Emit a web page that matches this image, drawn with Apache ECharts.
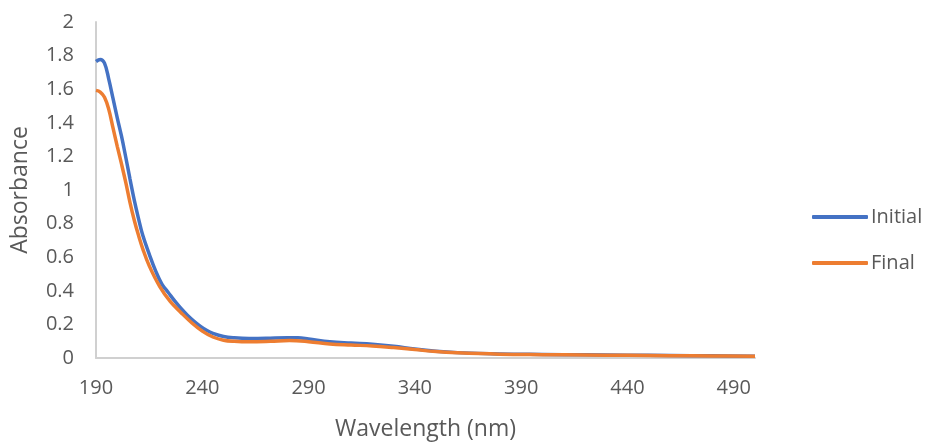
<!DOCTYPE html>
<html>
<head>
<meta charset="utf-8">
<script src="https://cdn.jsdelivr.net/npm/echarts@6/dist/echarts.min.js"></script>
<style>html,body{margin:0;padding:0;background:#fff}#c{width:928px;height:446px}</style>
</head>
<body>
<div id="c"></div>
<script>
var seriesNames = ['Initial', 'Final'];
var xTickLabels = [190, 240, 290, 340, 390, 440, 490];
var initialX = [190,192,194,196,198,200,202,204,206,208,210,212,215,218,221,224,227,230,233,236,239,242,245,250,255,262,270,280,285,290,300,310,320,330,340,350,360,380,400,420,440,460,480,500];
var initialY = [1.765,1.777,1.755,1.66,1.545,1.43,1.32,1.195,1.065,0.94,0.83,0.73,0.62,0.52,0.44,0.39,0.34,0.295,0.255,0.22,0.19,0.165,0.147,0.128,0.12,0.116,0.117,0.121,0.12,0.113,0.097,0.089,0.082,0.07,0.053,0.04,0.032,0.024,0.021,0.019,0.017,0.015,0.013,0.011];
var finalX = [190,192,194,196,198,200,202,204,206,208,210,212,215,220,225,230,235,240,245,250,255,262,272,281,290,300,310,320,330,340,350,360,380,400,420,440,460,480,500];
var finalY = [1.593,1.583,1.552,1.48,1.37,1.26,1.155,1.045,0.925,0.82,0.73,0.65,0.55,0.425,0.335,0.27,0.21,0.16,0.125,0.106,0.099,0.096,0.099,0.104,0.097,0.083,0.077,0.072,0.062,0.05,0.038,0.031,0.023,0.02,0.018,0.016,0.014,0.012,0.011];

function pairs(xs, ys) { return xs.map(function (x, i) { return [x, ys[i]]; }); }

var FONT = 'Open Sans';
var TXT = '#595959';
var chart = echarts.init(document.getElementById('c'), null, { renderer: 'canvas' });
chart.setOption({
  animation: false,
  textStyle: { fontFamily: FONT },
  grid: { left: 96, right: 173, top: 22, bottom: 82, containLabel: false },
  legend: {
    orient: 'vertical',
    left: 807,
    top: 202,
    itemWidth: 56,
    itemHeight: 4,
    itemGap: 26,
    icon: 'roundRect',
    textStyle: { color: TXT, fontSize: 20, fontFamily: FONT, padding: [0, 0, 0, -2] },
    data: seriesNames
  },
  xAxis: {
    type: 'value',
    min: 190,
    max: 500,
    interval: 10,
    name: 'Wavelength (nm)',
    nameLocation: 'middle',
    nameGap: 60,
    nameTextStyle: { color: TXT, fontSize: 23, fontFamily: FONT },
    axisLine: { show: true, onZero: false, lineStyle: { color: '#d0d0d0', width: 2 } },
    axisTick: { show: false },
    splitLine: { show: false },
    axisLabel: {
      color: TXT, fontSize: 20, fontFamily: FONT, margin: 20,
      showMaxLabel: false,
      formatter: function (v) { return xTickLabels.indexOf(v) >= 0 ? String(v) : ''; }
    }
  },
  yAxis: {
    type: 'value',
    min: 0,
    max: 2,
    interval: 0.2,
    name: 'Absorbance',
    nameLocation: 'middle',
    nameGap: 64,
    nameRotate: 90,
    nameTextStyle: { color: TXT, fontSize: 23, fontFamily: FONT },
    axisLine: { show: true, lineStyle: { color: '#d0d0d0', width: 2 } },
    axisTick: { show: false },
    splitLine: { show: false },
    axisLabel: {
      color: TXT, fontSize: 20, fontFamily: FONT, margin: 22,
      formatter: function (v) { return String(Math.round(v * 10) / 10); }
    }
  },
  series: [
    {
      name: seriesNames[0], type: 'line', data: pairs(initialX, initialY),
      smooth: 0.4, showSymbol: false, symbol: 'none',
      lineStyle: { color: '#4472C4', width: 3.5 }, itemStyle: { color: '#4472C4' }, z: 2
    },
    {
      name: seriesNames[1], type: 'line', data: pairs(finalX, finalY),
      smooth: 0.4, showSymbol: false, symbol: 'none',
      lineStyle: { color: '#ED7D31', width: 3.5 }, itemStyle: { color: '#ED7D31' }, z: 3
    }
  ]
});
</script>
</body>
</html>
